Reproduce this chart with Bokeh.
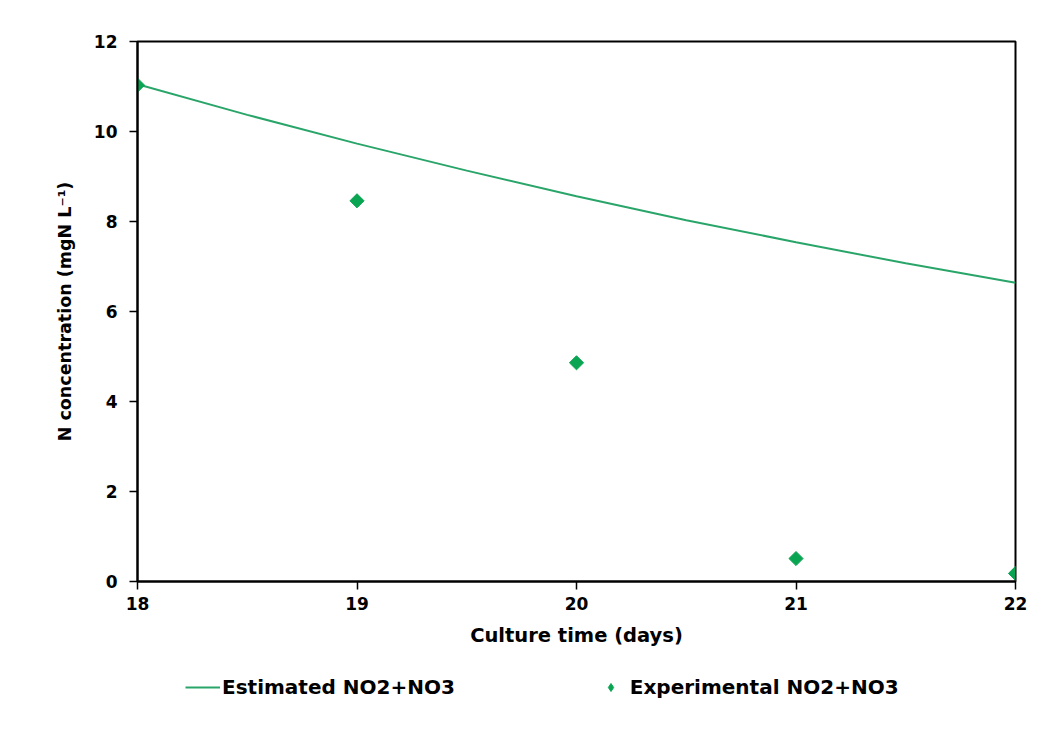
import math
from bokeh.plotting import figure
from bokeh.models import Range1d, Legend, LegendItem, FixedTicker
from bokeh.layouts import column
from bokeh.embed import file_html
from bokeh.resources import INLINE

# Estimated curve
est_days = [18, 18.5, 19, 19.5, 20, 20.5, 21, 21.5, 22]
est_conc = [11.05, 10.37, 9.73, 9.13, 8.56, 8.03, 7.54, 7.07, 6.64]

# Experimental points
exp_days = [18, 19, 20, 21, 22]
exp_conc = [11.03, 8.46, 4.86, 0.51, 0.18]

x_ticks = [18, 19, 20, 21, 22]
y_ticks = [0, 2, 4, 6, 8, 10, 12]

series_names = ["Estimated NO2+NO3", "Experimental NO2+NO3"]

FONT = "DejaVu Sans"
LINE_C = "#2aa56a"
PT_C = "#0aa552"

p = figure(width=1046, height=650, output_backend="svg", toolbar_location=None,
           x_range=Range1d(18, 22), y_range=Range1d(0, 12),
           min_border_left=137, min_border_right=31, min_border_top=41, min_border_bottom=69)

p.xgrid.visible = False
p.ygrid.visible = False
p.outline_line_color = "black"
p.outline_line_width = 2
p.background_fill_color = "white"
p.border_fill_color = "white"

for ax in (p.xaxis[0], p.yaxis[0]):
    ax.axis_line_color = "black"
    ax.axis_line_width = 2
    ax.major_tick_line_color = "black"
    ax.major_tick_line_width = 1.5
    ax.major_tick_out = 8
    ax.major_tick_in = 0
    ax.minor_tick_line_color = None
    ax.major_label_text_font = FONT
    ax.major_label_text_font_style = "bold"
    ax.major_label_text_font_size = "17px"
    ax.major_label_text_color = "black"
    ax.axis_label_text_font = FONT
    ax.axis_label_text_color = "black"
    ax.axis_label_text_font_style = "bold"

p.xaxis.ticker = FixedTicker(ticks=x_ticks)
p.yaxis.ticker = FixedTicker(ticks=y_ticks)
p.xaxis.axis_label = "Culture time (days)"
p.xaxis.axis_label_text_font_size = "19.5px"
p.xaxis.axis_label_standoff = 11
p.xaxis.major_label_standoff = 7
p.yaxis.axis_label = "N concentration (mgN L\u207b\u00b9)"
p.yaxis.axis_label_text_font_size = "17.5px"
p.yaxis.axis_label_standoff = 16
p.yaxis.major_label_standoff = 12

p.line(est_days, est_conc, line_color=LINE_C, line_width=2)
p.scatter(exp_days, exp_conc, marker="square", angle=math.pi / 4, size=10,
          fill_color=PT_C, line_color=PT_C)

# Legend strip below the chart (its sample renderers sit outside the visible range)
lg = figure(width=1046, height=81, output_backend="svg", toolbar_location=None,
            x_range=Range1d(0, 1), y_range=Range1d(0, 1),
            min_border_left=0, min_border_right=0, min_border_top=0, min_border_bottom=0)
lg.axis.visible = False
lg.grid.visible = False
lg.outline_line_color = None
lg.border_fill_color = "white"
lg.background_fill_color = "white"
r_line = lg.line([5, 6], [5, 5], line_color=LINE_C, line_width=2)
r_pts = lg.scatter([5], [5], marker="diamond", size=15, fill_color=PT_C, line_color=PT_C)

legend = Legend(items=[LegendItem(label=series_names[0], renderers=[r_line]),
                       LegendItem(label=series_names[1], renderers=[r_pts])],
                orientation="horizontal", location=(48, 32),
                border_line_color=None, background_fill_alpha=0,
                label_text_font=FONT, label_text_font_style="bold",
                label_text_font_size="20px", label_text_color="black",
                glyph_width=35, spacing=138, label_standoff=2, padding=0, margin=0)
lg.add_layout(legend, "center")

layout = column(p, lg, spacing=0)
open("out.html", "w").write(file_html(layout, INLINE))
